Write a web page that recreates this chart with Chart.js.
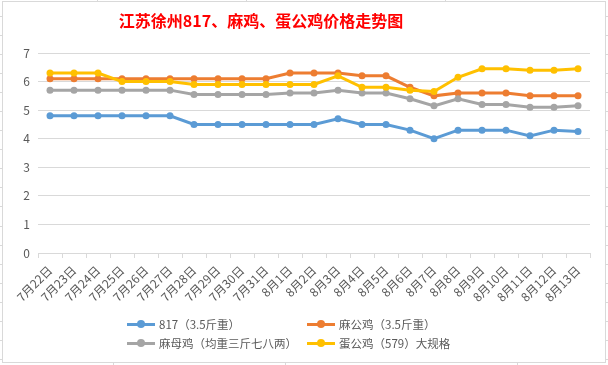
<!DOCTYPE html>
<html>
<head>
<meta charset="utf-8">
<script src="https://cdn.jsdelivr.net/npm/chart.js@4.4.1/dist/chart.umd.min.js"></script>
<style>
  body { margin: 0; background: #fff; }
  #wrap { position: relative; width: 608px; height: 365px; }
  #legend { position: absolute; left: 0; top: 0; width: 608px; height: 365px; pointer-events: none;
    font-family: "Noto Sans CJK SC", sans-serif; font-size: 11.5px; color: #595959; }
  .item { position: absolute; height: 16px; display: flex; align-items: center; white-space: nowrap; }
  .mark { position: relative; width: 28px; height: 3px; margin-right: 4px; }
  .mark i { position: absolute; left: 10px; top: -2.5px; width: 8px; height: 8px; border-radius: 50%; }
</style>
</head>
<body>
<div id="wrap">
  <canvas id="chart" width="608" height="365"></canvas>
  <div id="legend"></div>
</div>
<script>
const titleText = '江苏徐州817、麻鸡、蛋公鸡价格走势图';

const categories = ['7月22日', '7月23日', '7月24日', '7月25日', '7月26日', '7月27日', '7月28日', '7月29日',
  '7月30日', '7月31日', '8月1日', '8月2日', '8月3日', '8月4日', '8月5日', '8月6日', '8月7日', '8月8日',
  '8月9日', '8月10日', '8月11日', '8月12日', '8月13日'];

const seriesNames = ['817（3.5斤重）', '麻公鸡（3.5斤重）', '麻母鸡（均重三斤七八两）', '蛋公鸡（579）大规格'];

const price817 = [4.8, 4.8, 4.8, 4.8, 4.8, 4.8, 4.5, 4.5, 4.5, 4.5, 4.5, 4.5, 4.7, 4.5, 4.5, 4.3, 4.0, 4.3, 4.3, 4.3, 4.1, 4.3, 4.25];
const priceMaGong = [6.1, 6.1, 6.1, 6.1, 6.1, 6.1, 6.1, 6.1, 6.1, 6.1, 6.3, 6.3, 6.3, 6.2, 6.2, 5.8, 5.5, 5.6, 5.6, 5.6, 5.5, 5.5, 5.5];
const priceMaMu = [5.7, 5.7, 5.7, 5.7, 5.7, 5.7, 5.55, 5.55, 5.55, 5.55, 5.6, 5.6, 5.7, 5.6, 5.6, 5.4, 5.15, 5.4, 5.2, 5.2, 5.1, 5.1, 5.15];
const priceDanGong = [6.3, 6.3, 6.3, 6.0, 6.0, 6.0, 5.9, 5.9, 5.9, 5.9, 5.9, 5.9, 6.2, 5.8, 5.8, 5.7, 5.65, 6.15, 6.45, 6.45, 6.4, 6.4, 6.45];

const colors = ['#5B9BD5', '#ED7D31', '#A5A5A5', '#FFC000'];
const allSeries = [price817, priceMaGong, priceMaMu, priceDanGong];

const font = '"Noto Sans CJK SC", sans-serif';

const datasets = allSeries.map((data, i) => ({
  label: seriesNames[i],
  data: data,
  borderColor: colors[i],
  backgroundColor: colors[i],
  borderWidth: 3,
  pointRadius: 3.5,
  pointBorderWidth: 0,
  pointBackgroundColor: colors[i],
  tension: 0,
  order: 4 - i // later series on top, like Excel
}));

// sheet frame, cell marks and the title
const frame = {
  id: 'frame',
  beforeDraw(chart) {
    const ctx = chart.ctx;
    ctx.save();
    ctx.fillStyle = '#fff';
    ctx.fillRect(0, 0, 608, 365);
    ctx.strokeStyle = '#d9d9d9';
    ctx.lineWidth = 1;
    ctx.strokeRect(2.5, 1.5, 603, 361);
    ctx.beginPath();
    for (let y = 15.5; y < 365; y += 19.1) {
      ctx.moveTo(0, Math.round(y) + 0.5); ctx.lineTo(2, Math.round(y) + 0.5);
      ctx.moveTo(606, Math.round(y) + 0.5); ctx.lineTo(608, Math.round(y) + 0.5);
    }
    [97, 246, 445].forEach(x => { ctx.moveTo(x + 0.5, 0); ctx.lineTo(x + 0.5, 1); });
    [113, 285, 517].forEach(x => { ctx.moveTo(x + 0.5, 363); ctx.lineTo(x + 0.5, 365); });
    ctx.stroke();
    ctx.restore();
  },
  afterDraw(chart) {
    const ctx = chart.ctx;
    ctx.save();
    ctx.font = 'bold 16px ' + font;
    ctx.fillStyle = '#FF0000';
    ctx.textAlign = 'center';
    ctx.textBaseline = 'middle';
    ctx.fillText(titleText, 261, 21);
    ctx.restore();
  }
};

new Chart(document.getElementById('chart'), {
  type: 'line',
  data: { labels: categories, datasets },
  options: {
    responsive: false,
    animation: false,
    layout: { padding: { left: 0, right: 18, top: 53, bottom: 0 } },
    plugins: {
      legend: { display: false },
      title: { display: false },
      tooltip: { enabled: false }
    },
    scales: {
      x: {
        offset: true,
        afterFit: (scale) => { scale.height = 112; },
        grid: { display: true, drawOnChartArea: false, drawTicks: true, tickLength: 5, color: '#d9d9d9', offset: true },
        border: { display: true, color: '#d9d9d9' },
        ticks: { autoSkip: false, minRotation: 45, maxRotation: 45, color: '#595959', padding: 5, font: { family: font, size: 12 } }
      },
      y: {
        min: 0,
        max: 7,
        afterFit: (scale) => { scale.width = 38; },
        grid: { color: '#d9d9d9', drawTicks: false },
        border: { display: false },
        ticks: { stepSize: 1, color: '#595959', padding: 8, font: { family: font, size: 12 } }
      }
    }
  },
  plugins: [frame]
});

// legend in two columns, like the original
const legendPos = [[127, 316], [307, 316], [127, 335], [307, 335]];
const legend = document.getElementById('legend');
seriesNames.forEach((name, i) => {
  const item = document.createElement('div');
  item.className = 'item';
  item.style.left = legendPos[i][0] + 'px';
  item.style.top = legendPos[i][1] + 'px';
  item.innerHTML = '<span class="mark" style="background:' + colors[i] + '"><i style="background:' + colors[i] + '"></i></span>' + name;
  legend.appendChild(item);
});
</script>
</body>
</html>
